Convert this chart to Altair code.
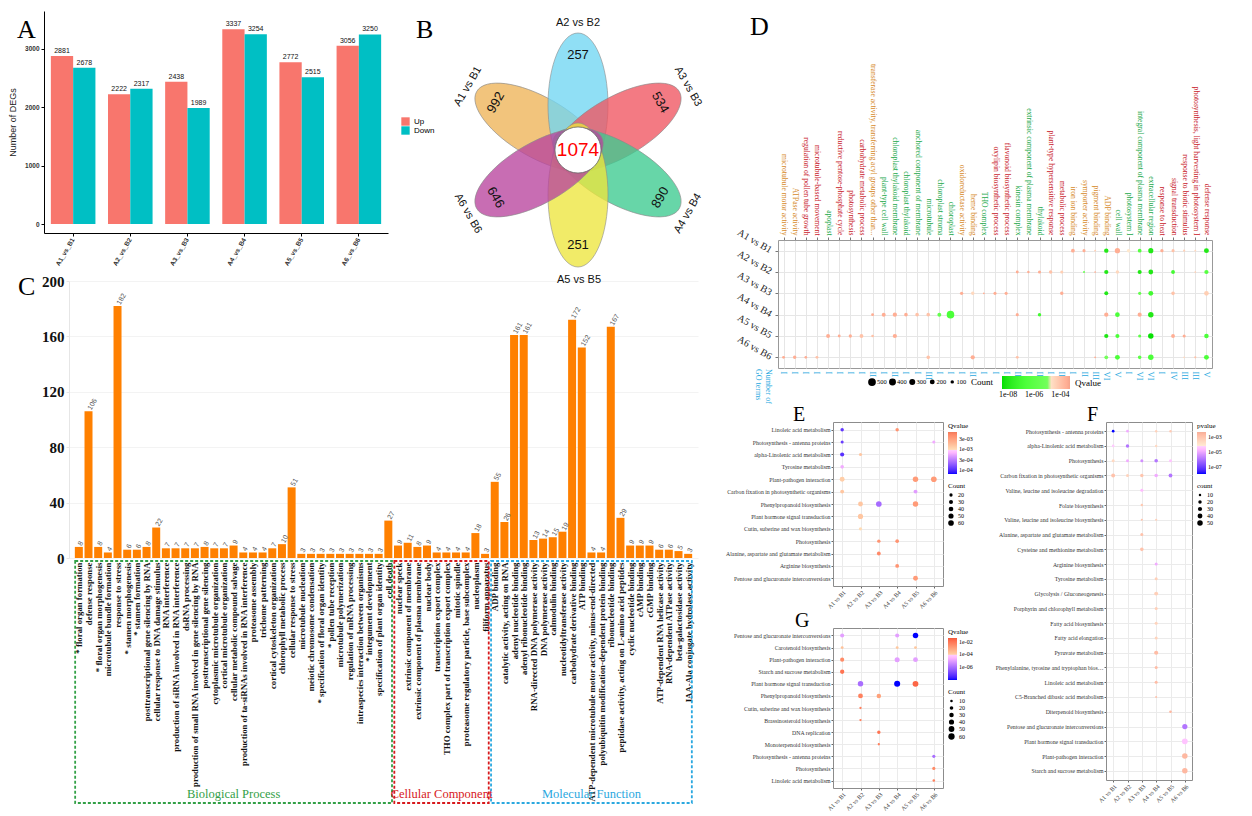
import json
import math
import altair as alt
import pandas as pd

SERIF = "Liberation Serif"
SANS = "Liberation Sans"

# ======================= DATA =======================
# ---- Panel A ----
a_comparisons = ["A1_vs_B1", "A2_vs_B2", "A3_vs_B3", "A4_vs_B4", "A5_vs_B5", "A6_vs_B6"]
a_types = ["Up", "Down"]
a_up = [2881, 2222, 2438, 3337, 2772, 3056]
a_down = [2678, 2317, 1989, 3254, 2515, 3250]
a_colors = ["#F8766D", "#00BFC4"]

# ---- Panel B ----
b_sets = ["A1 vs B1", "A2 vs B2", "A3 vs B3", "A4 vs B4", "A5 vs B5", "A6 vs B6"]
b_unique = [992, 257, 534, 890, 251, 646]
b_core = 1074
b_petal_angle = [150, 90, 30, -30, -90, -150]
b_colors = ["#EEB357", "#71D6F2", "#EF5560", "#3CCB8F", "#EDE63E", "#B8449D"]

# ---- Panel C ----
c_terms = [
    "* floral organ formation", "defense response", "* floral organ morphogenesis",
    "microtubule bundle formation", "response to stress", "* stamen morphogenesis",
    "* stamen formation", "posttranscriptional gene silencing by RNA",
    "cellular response to DNA damage stimulus", "RNA interference",
    "production of siRNA involved in RNA interference", "dsRNA processing",
    "production of small RNA involved in gene silencing by RNA",
    "posttranscriptional gene silencing", "cytoplasmic microtubule organization",
    "cortical microtubule organization", "cellular metabolic compound salvage",
    "production of ta-siRNAs involved in RNA interference", "proteasome assembly",
    "trichome patterning", "cortical cytoskeleton organization",
    "chlorophyll metabolic process", "cellular response to stress",
    "microtubule nucleation", "meiotic chromosome condensation",
    "* specification of floral organ identity", "* pollen tube reception",
    "microtubule polymerization", "regulation of mRNA processing",
    "intraspecies interaction between organisms", "* integument development",
    "specification of plant organ identity", "cell death",
    "nuclear speck", "extrinsic component of membrane",
    "extrinsic component of plasma membrane", "nuclear body",
    "transcription export complex", "THO complex part of transcription export complex",
    "mitotic spindle", "proteasome regulatory particle, base subcomplex",
    "nucleoplasm", "filiform apparatus",
    "ADP binding", "catalytic activity, acting on RNA", "adenyl nucleotide binding",
    "adenyl ribonucleotide binding", "RNA-directed DNA polymerase activity",
    "DNA polymerase activity", "calmodulin binding", "nucleotidyltransferase activity",
    "carbohydrate derivative binding", "ATP binding",
    "ATP-dependent microtubule motor activity, minus-end-directed",
    "polyubiquitin modification-dependent protein binding", "ribonucleotide binding",
    "peptidase activity, acting on L-amino acid peptides", "cyclic nucleotide binding",
    "cAMP binding", "cGMP binding", "ATP-dependent RNA helicase activity",
    "RNA-dependent ATPase activity", "beta-galactosidase activity",
    "IAA-Ala conjugate hydrolase activity",
]
c_counts = [8, 106, 8, 4, 182, 6, 6, 8, 22, 7, 7, 7, 7, 8, 7, 7, 9, 4, 4, 4, 7, 10, 51,
            3, 3, 3, 3, 3, 3, 3, 3, 3, 27,
            9, 11, 8, 9, 4, 4, 4, 4, 18, 3,
            55, 26, 161, 161, 13, 14, 15, 19, 172, 152, 4, 4, 167, 29, 9, 9, 9, 6, 6, 5, 3]
c_group_names = ["Biological Process", "Cellular Component", "Molecular Function"]
c_group_sizes = [33, 10, 21]
c_group_colors = ["#33A047", "#D7191C", "#2AA8E0"]

# ---- Panel D ----
d_terms = [
    "microtubule motor activity", "ATPase activity", "regulation of pollen tube growth",
    "microtubule-based movement", "apoplast", "reductive pentose-phosphate cycle",
    "photosynthesis", "carbohydrate metabolic process",
    "transferase activity, transferring acyl groups other than...", "plant-type cell wall",
    "chloroplast thylakoid membrane", "chloroplast thylakoid", "anchored component of membrane",
    "microtubule", "chloroplast stroma", "chloroplast", "oxidoreductase activity",
    "heme binding", "THO complex", "oxylipin biosynthetic process",
    "flavonoid biosynthetic process", "kinesin complex",
    "extrinsic component of plasma membrane", "thylakoid",
    "plant-type hypersensitive response", "metabolic process", "iron ion binding",
    "symporter activity", "pigment binding", "ADP binding", "cell wall", "photosystem I",
    "integral component of plasma membrane", "extracellular region", "response to heat",
    "signal transduction", "response to biotic stimulus",
    "photosynthesis, light harvesting in photosystem I", "defense response",
]
d_ontology = ["MF", "MF", "BP", "BP", "CC", "BP", "BP", "BP", "MF", "CC",
              "CC", "CC", "CC", "CC", "CC", "CC", "MF", "MF", "CC", "BP",
              "BP", "CC", "CC", "CC", "BP", "BP", "MF", "MF", "MF", "MF",
              "CC", "CC", "CC", "CC", "BP", "BP", "BP", "BP", "BP"]
d_numerals = ["I", "I", "I", "I", "I", "I", "I", "I", "II", "I", "II", "I", "I", "III",
              "I", "I", "I", "II", "I", "I", "I", "III", "I", "II", "I", "II", "I", "II",
              "III", "VI", "V", "I", "VI", "VI", "I", "IV", "III", "III", "V"]
d_rows = ["A1 vs B1", "A2 vs B2", "A3 vs B3", "A4 vs B4", "A5 vs B5", "A6 vs B6"]

d_a1_cols = [27, 28, 29, 30, 31, 32, 33, 34, 35, 36, 37, 38, 39]
d_a1_count = [120, 80, 30, 160, 230, 100, 120, 220, 90, 80, 40, 30, 200]
d_a1_q = [3e-4, 3e-4, 5e-5, 1e-8, 3e-4, 1.3e-5, 5e-7, 1e-8, 3e-4, 1e-4, 5e-5, 3e-5, 1e-8]

d_a2_cols = [22, 23, 24, 25, 26, 28, 29, 30, 31, 33, 34, 36, 38, 39]
d_a2_count = [70, 50, 80, 100, 80, 30, 25, 150, 100, 140, 190, 120, 25, 150]
d_a2_q = [3e-4, 3e-4, 3e-4, 1e-4, 5e-5, 2e-6, 3e-4, 1e-8, 3e-5, 1e-8, 1e-8, 1e-7, 5e-5, 5e-7]

d_a3_cols = [17, 18, 19, 20, 21, 26, 30, 33, 34, 36, 39]
d_a3_count = [90, 100, 30, 80, 80, 100, 130, 80, 200, 110, 180]
d_a3_q = [3e-4, 3e-5, 3e-4, 3e-4, 3e-4, 3e-4, 1e-8, 2e-6, 1e-7, 1e-4, 5e-5]

d_a4_cols = [9, 10, 11, 12, 13, 14, 15, 16, 22, 24, 30, 31, 33, 34]
d_a4_count = [70, 130, 150, 110, 110, 110, 130, 480, 80, 100, 150, 180, 140, 250]
d_a4_q = [3e-4, 3e-4, 3e-4, 3e-4, 1e-4, 1e-4, 2e-6, 2e-7, 3e-4, 1e-7, 3e-4, 2e-7, 3e-4, 1e-8]

d_a5_cols = [5, 6, 7, 8, 9, 11, 30, 31, 33, 34, 36, 37, 39]
d_a5_count = [130, 70, 90, 120, 60, 150, 150, 140, 80, 250, 120, 80, 170]
d_a5_q = [3e-4, 3e-4, 3e-4, 1e-4, 1e-4, 3e-4, 8e-9, 2e-7, 1e-6, 4e-9, 3e-4, 3e-4, 2e-7]

d_a6_cols = [1, 2, 3, 4, 14, 18, 22, 29, 30, 31, 33, 34, 37, 38, 39]
d_a6_count = [70, 100, 60, 70, 110, 150, 70, 30, 120, 200, 110, 250, 25, 40, 200]
d_a6_q = [3e-4, 3e-4, 3e-4, 1e-4, 1e-4, 3e-4, 1e-4, 3e-4, 1e-5, 2e-7, 1e-6, 2e-7, 3e-5, 1e-4, 2e-7]

# ---- Panels E, F, G ----
kegg_cmps = ["A1 vs B1", "A2 vs B2", "A3 vs B3", "A4 vs B4", "A5 vs B5", "A6 vs B6"]

e_pathways = ["Linoleic acid metabolism", "Photosynthesis - antenna proteins",
              "alpha-Linolenic acid metabolism", "Tyrosine metabolism",
              "Plant-pathogen interaction", "Carbon fixation in photosynthetic organisms",
              "Phenylpropanoid biosynthesis", "Plant hormone signal transduction",
              "Cutin, suberine and wax biosynthesis", "Photosynthesis",
              "Alanine, aspartate and glutamate metabolism", "Arginine biosynthesis",
              "Pentose and glucuronate interconversions"]
e_dot_path = [0, 0, 1, 1, 2, 2, 3, 4, 4, 4, 5, 5, 6, 6, 6, 7, 8, 9, 9, 10, 11, 12]
e_dot_cmp = [0, 3, 0, 5, 0, 1, 0, 0, 4, 5, 0, 4, 1, 2, 4, 1, 1, 2, 3, 2, 3, 4]
e_dot_count = [22, 22, 18, 18, 32, 18, 25, 45, 55, 60, 28, 28, 45, 60, 55, 50, 20, 22, 25, 28, 28, 45]
e_dot_q = [1.2e-4, 4e-3, 1.3e-4, 6e-4, 1.1e-4, 1.5e-3, 6e-4, 1.3e-3, 3.5e-3, 3.5e-3, 1.5e-3, 5e-4,
           1.5e-3, 2.5e-4, 3.5e-3, 1.5e-3, 1e-3, 4e-3, 4e-3, 5e-3, 4e-3, 3.5e-3]

f_pathways = ["Photosynthesis - antenna proteins", "alpha-Linolenic acid metabolism", "Photosynthesis",
              "Carbon fixation in photosynthetic organisms", "Valine, leucine and isoleucine degradation",
              "Folate biosynthesis", "Valine, leucine and isoleucine biosynthesis",
              "Alanine, aspartate and glutamate metabolism", "Cysteine and methionine metabolism",
              "Arginine biosynthesis", "Tyrosine metabolism", "Glycolysis / Gluconeogenesis",
              "Porphyrin and chlorophyll metabolism", "Fatty acid biosynthesis", "Fatty acid elongation",
              "Pyruvate metabolism", "Phenylalanine, tyrosine and tryptophan biosynthesis",
              "Linoleic acid metabolism", "C5-Branched dibasic acid metabolism", "Diterpenoid biosynthesis",
              "Pentose and glucuronate interconversions", "Plant hormone signal transduction",
              "Plant-pathogen interaction", "Starch and sucrose metabolism"]
f_dot_path = [0, 0, 0, 0, 1, 1, 1, 2, 2, 2, 2, 2, 3, 3, 3, 3, 3,
              4, 5, 6, 6, 7, 8, 9, 10, 11, 12, 13, 14, 15, 16, 17, 18, 19, 20, 21, 22, 23]
f_dot_cmp = [0, 1, 3, 4, 0, 1, 3, 0, 1, 2, 3, 4, 0, 1, 2, 3, 4,
             2, 2, 2, 3, 2, 2, 3, 3, 3, 3, 3, 3, 3, 3, 3, 3, 4, 5, 5, 5, 5]
f_dot_count = [12, 12, 10, 10, 12, 20, 10, 15, 15, 15, 22, 15, 25, 15, 20, 22, 25,
               15, 10, 8, 8, 15, 22, 15, 15, 25, 15, 15, 15, 28, 15, 15, 7, 12, 45, 55, 50, 50]
f_dot_p = [1e-8, 1e-5, 3e-4, 5e-4, 4e-5, 1e-6, 2e-4, 2e-4, 1e-5, 3e-6, 1e-6, 3e-5,
           1e-3, 3e-4, 8e-4, 1e-5, 1e-6,
           2e-5, 6e-4, 8e-4, 4e-4, 1e-3, 1e-3, 1e-5, 4e-4, 4e-4, 4e-4, 3e-4, 3e-4,
           1.5e-3, 1.5e-3, 1.5e-3, 1e-3, 2e-3, 1e-6, 3e-5, 2e-3, 2e-3]

g_pathways = ["Pentose and glucuronate interconversions", "Carotenoid biosynthesis",
              "Plant-pathogen interaction", "Starch and sucrose metabolism",
              "Plant hormone signal transduction", "Phenylpropanoid biosynthesis",
              "Cutin, suberine and wax biosynthesis", "Brassinosteroid biosynthesis",
              "DNA replication", "Monoterpenoid biosynthesis", "Photosynthesis - antenna proteins",
              "Photosynthesis", "Linoleic acid metabolism"]
g_dot_path = [0, 0, 0, 1, 1, 1, 2, 2, 2, 3, 4, 4, 4, 5, 5, 6, 7, 8, 9, 10, 11, 12]
g_dot_cmp = [0, 3, 4, 0, 3, 4, 0, 3, 4, 0, 1, 3, 4, 1, 2, 1, 1, 2, 2, 5, 5, 5]
g_dot_count = [25, 25, 45, 12, 12, 12, 25, 38, 35, 28, 45, 55, 50, 35, 30, 8, 8, 18, 8, 15, 15, 10]
g_dot_q = [1e-5, 1e-5, 1e-8, 2e-4, 1.5e-4, 1.5e-4, 3e-3, 1e-5, 1e-5, 1e-2, 1e-6, 1e-8, 2e-2,
           5e-3, 1e-3, 5e-3, 5e-3, 1e-2, 5e-3, 1e-6, 3e-3, 5e-3]


# ======================= HELPERS =======================
def letter_layer(ch, x, y, size=26):
    return alt.Chart(pd.DataFrame({"t": [ch]})).mark_text(
        font=SERIF, fontSize=size, align="left", baseline="middle", color="#000"
    ).encode(text="t:N", x=alt.value(x), y=alt.value(y))


def spacer(w=1, h=1):
    return alt.Chart(pd.DataFrame({"a": [0]})).mark_point(opacity=0).encode(
        x=alt.value(0), y=alt.value(0)).properties(width=w, height=h)


SCI_LABEL = "replace(format(datum.value, '.0e'), 'e-', 'e-0')"
RES = dict(color="independent", size="independent")

# ======================= PANEL A =======================
dfA = pd.DataFrame({
    "cmp": a_comparisons * 2,
    "type": ["Up"] * len(a_up) + ["Down"] * len(a_down),
    "n": a_up + a_down,
})
A_SHIFT = 25          # the y axis of A sits left of the shared column origin
A_W, A_H = 319, 222
baseA = alt.Chart(dfA).encode(
    x=alt.X("cmp:N", sort=a_comparisons, title=None,
            scale=alt.Scale(paddingInner=0.22, paddingOuter=0.12, range=[-A_SHIFT, A_W]),
            axis=alt.Axis(labelAngle=-60, labelFont=SANS, labelFontSize=6.5, labelFontWeight="bold",
                          labelColor="#333", domainColor="#000", tickColor="#000", tickSize=3,
                          labelPadding=2)),
    xOffset=alt.XOffset("type:N", sort=a_types, scale=alt.Scale(domain=a_types)),
    y=alt.Y("n:Q", scale=alt.Scale(domain=[-154, 3651], nice=False),
            axis=alt.Axis(values=[0, 1000, 2000, 3000], format="d", title="Number of DEGs",
                          titleFont=SANS, titleFontSize=9, titleFontWeight="normal", titleColor="#222",
                          labelFont=SANS, labelFontSize=6.5, labelFontWeight="bold", labelColor="#333",
                          domainColor="#000", tickColor="#000", tickSize=3, grid=False,
                          minExtent=22, titlePadding=5, offset=A_SHIFT)),
)
barsA = baseA.mark_bar().encode(
    color=alt.Color("type:N", sort=a_types, scale=alt.Scale(domain=a_types, range=a_colors),
                    legend=alt.Legend(title=None, orient="none", legendX=332, legendY=106,
                                      labelFont=SANS, labelFontSize=8, symbolType="square",
                                      symbolSize=70, rowPadding=0, symbolStrokeWidth=0))
)
textA = baseA.mark_text(dy=-5, font=SANS, fontSize=7, color="#111").encode(
    text=alt.Text("n:Q", format="d"))
chartA = alt.layer(barsA, textA, letter_layer("A", -52, 19), letter_layer("B", 347, 19)).properties(
    width=A_W, height=A_H)

# ======================= PANEL B =======================
B_W = 282
B_TOP, B_BOT = 139, 124        # room above / below the flower centre
kk, bb = 0.5523, 0.4167
ell_path = (f"M-1,0C-1,{-bb*kk:.4f},{-kk:.4f},{-bb:.4f},0,{-bb:.4f}"
            f"C{kk:.4f},{-bb:.4f},1,{-bb*kk:.4f},1,0"
            f"C1,{bb*kk:.4f},{kk:.4f},{bb:.4f},0,{bb:.4f}"
            f"C{-kk:.4f},{bb:.4f},-1,{bb*kk:.4f},-1,0Z")
rowsB = []
for s, n, ang, col in zip(b_sets, b_unique, b_petal_angle, b_colors):
    t = math.radians(ang)
    r = ang - 90
    while r <= -90:
        r += 180
    while r > 90:
        r -= 180
    rowsB.append(dict(set=s, n=n, col=col,
                      cx=45 * math.cos(t), cy=45 * math.sin(t),
                      nx=95 * math.cos(t), ny=95 * math.sin(t),
                      lx=127 * math.cos(t), ly=127 * math.sin(t),
                      rot=(-ang) % 360, trot=(-r) % 360))
dfB = pd.DataFrame(rowsB)
bottom_set = b_sets[b_petal_angle.index(-90)]
sxB = alt.Scale(domain=[-B_W / 2, B_W / 2], nice=False, zero=False)
syB = alt.Scale(domain=[-B_BOT, B_TOP], nice=False, zero=False)
petals = alt.Chart(dfB).mark_point(shape=ell_path, size=20736, filled=True, fillOpacity=0.78,
                                   stroke="#8a8a8a", strokeWidth=0.6).encode(
    x=alt.X("cx:Q", scale=sxB, axis=None), y=alt.Y("cy:Q", scale=syB, axis=None),
    angle=alt.Angle("rot:Q", scale=None), fill=alt.Fill("col:N", scale=None))
dfCore = pd.DataFrame({"cx": [0.0], "cy": [0.0], "n": [b_core]})
core = alt.Chart(dfCore).mark_point(shape="circle", size=2124, filled=True, fill="white",
                                    fillOpacity=1, stroke="#666", strokeWidth=0.8).encode(
    x=alt.X("cx:Q", scale=sxB, axis=None), y=alt.Y("cy:Q", scale=syB, axis=None))
coreTxt = alt.Chart(dfCore).mark_text(font=SANS, fontSize=19, color="#FF0000").encode(
    x=alt.X("cx:Q", scale=sxB, axis=None), y=alt.Y("cy:Q", scale=syB, axis=None), text="n:Q")
numTxt = alt.Chart(dfB).mark_text(font=SANS, fontSize=13, color="#111").encode(
    x=alt.X("nx:Q", scale=sxB, axis=None), y=alt.Y("ny:Q", scale=syB, axis=None),
    text="n:Q", angle=alt.Angle("trot:Q", scale=None))
# the bottom petal's name sits in the strip above panel C and is drawn there
setTxt = alt.Chart(dfB[dfB["set"] != bottom_set]).mark_text(font=SANS, fontSize=11, color="#111").encode(
    x=alt.X("lx:Q", scale=sxB, axis=None), y=alt.Y("ly:Q", scale=syB, axis=None),
    text="set:N", angle=alt.Angle("trot:Q", scale=None))
chartB = alt.layer(petals, core, coreTxt, numTxt, setTxt).properties(width=B_W, height=B_TOP + B_BOT)

# ======================= PANEL C =======================
C_W, C_H = 629, 277
nC = len(c_terms)
dfC = pd.DataFrame({"idx": list(range(nC)), "term": c_terms, "n": c_counts})
label_expr_C = json.dumps(c_terms) + "[datum.value]"
xC = alt.X("idx:Q", title=None,
           scale=alt.Scale(domain=[-0.5, nC - 0.5], nice=False, zero=False),
           axis=alt.Axis(values=list(range(nC)), tickCount=500, labelExpr=label_expr_C, labelAngle=270,
                         labelOverlap=False, labelBound=False, labelFlush=False, labelFont=SERIF,
                         labelFontSize=8.8, labelFontWeight="bold", labelColor="#111",
                         labelLimit=250, labelPadding=4, ticks=False, domain=False, grid=False))
yC = alt.Y("n:Q", scale=alt.Scale(domain=[0, 200], nice=False),
           axis=alt.Axis(values=list(range(0, 201, 20)), title="Number of DEGs", titleFont=SERIF,
                         titleFontSize=21, titleFontWeight="bold", titleColor="#111",
                         labelFont=SERIF, labelFontSize=15, labelFontWeight="bold", labelColor="#111",
                         grid=True, gridColor="#f3f3f3", domainColor="#e6e6e6", tickColor="#e6e6e6",
                         tickSize=3, titlePadding=6))
barsC = alt.Chart(dfC).mark_bar(size=8, color="#FF8000").encode(x=xC, y=yC)
textC = alt.Chart(dfC).mark_text(angle=300, align="left", baseline="middle", dx=2, font=SANS,
                                 fontSize=7, color="#555").encode(
    x=alt.X("idx:Q", title=None), y=alt.Y("n:Q", title=None), text="n:Q")
g_start = [sum(c_group_sizes[:i]) for i in range(len(c_group_sizes))]
dfGrp = pd.DataFrame({
    "name": c_group_names,
    "x0": [s - 0.5 + 0.12 for s in g_start],
    "x1": [s + n - 0.5 - 0.12 for s, n in zip(g_start, c_group_sizes)],
    "mid": [s + (n - 1) / 2 for s, n in zip(g_start, c_group_sizes)],
    "col": c_group_colors,
})
boxC = alt.Chart(dfGrp).mark_rect(fill="transparent", strokeWidth=1.8, strokeDash=[3, 2]).encode(
    x=alt.X("x0:Q", title=None), x2="x1:Q", y=alt.value(C_H + 3), y2=alt.value(C_H + 245),
    stroke=alt.Stroke("col:N", scale=None))
grpTxt = alt.Chart(dfGrp).mark_text(font=SERIF, fontSize=12.5, baseline="bottom").encode(
    x=alt.X("mid:Q", title=None), y=alt.value(C_H + 243), text="name:N",
    color=alt.Color("col:N", scale=None))
vennBottomName = alt.Chart(pd.DataFrame({"t": [bottom_set]})).mark_text(
    font=SANS, fontSize=11, color="#111", baseline="middle").encode(
    text="t:N", x=alt.value(510), y=alt.value(-1))
chartC = alt.layer(barsC, textC, boxC, grpTxt, vennBottomName, letter_layer("C", -51, 6)).properties(
    width=C_W, height=C_H)

# ======================= PANEL D =======================
D_W, D_H = 434, 128
d_row_data = [
    (d_a1_cols, d_a1_count, d_a1_q), (d_a2_cols, d_a2_count, d_a2_q),
    (d_a3_cols, d_a3_count, d_a3_q), (d_a4_cols, d_a4_count, d_a4_q),
    (d_a5_cols, d_a5_count, d_a5_q), (d_a6_cols, d_a6_count, d_a6_q),
]
recD = []
for rname, (cols, cnts, qs) in zip(d_rows, d_row_data):
    for c, n, q in zip(cols, cnts, qs):
        recD.append({"row": rname, "term": d_terms[c - 1], "count": n, "q": q})
dfD = pd.DataFrame(recD)
bp_terms = [t for t, o in zip(d_terms, d_ontology) if o == "BP"]
cc_terms = [t for t, o in zip(d_terms, d_ontology) if o == "CC"]
d_label_color = {
    "condition": [
        {"test": f"indexof({json.dumps(bp_terms)}, datum.value) >= 0", "value": "#C8202A"},
        {"test": f"indexof({json.dumps(cc_terms)}, datum.value) >= 0", "value": "#22A94A"},
    ],
    "value": "#D68A2A",
}
num_expr = f"{json.dumps(d_numerals)}[indexof({json.dumps(d_terms)}, datum.value)]"
yD_scale = alt.Scale(domain=d_rows)
yD = alt.Y("row:N", sort=d_rows, scale=yD_scale, title=None,
           axis=alt.Axis(labels=False, grid=True, gridColor="#e6e6e6",
                         tickColor="#777", tickSize=3, domain=False))
ptsD = alt.Chart(dfD).mark_circle(opacity=1).encode(
    x=alt.X("term:N", sort=d_terms, scale=alt.Scale(domain=d_terms), title=None,
            axis=alt.Axis(orient="top", labelAngle=90, labelAlign="right", labelBaseline="middle",
                          labelFont=SERIF, labelFontSize=7.6, labelLimit=240, labelColor=d_label_color,
                          grid=True, gridColor="#e6e6e6", tickColor="#777", tickSize=3, domain=False,
                          labelPadding=2)),
    y=yD,
    color=alt.Color("q:Q", scale=alt.Scale(type="log", domain=[10 ** -8.46, 10 ** -4.9, 10 ** -3.27],
                                           range=["#00E000", "#FFFFFF", "#F5A38A"]),
                    legend=alt.Legend(title="Qvalue", orient="none", legendX=224, legendY=136,
                                      direction="horizontal", gradientLength=68, gradientThickness=13,
                                      values=[1e-8, 1e-6, 1e-4], labelExpr=SCI_LABEL, titleOrient="right",
                                      titleFont=SERIF, titleFontSize=9, titleFontWeight="normal",
                                      labelFont=SERIF, labelFontSize=8)),
    size=alt.Size("count:Q", scale=alt.Scale(domain=[0, 500], range=[0, 60]),
                  legend=alt.Legend(title="Count", orient="none", legendX=90, legendY=138,
                                    direction="horizontal", values=[500, 400, 300, 200, 100],
                                    symbolFillColor="black", symbolStrokeWidth=0, symbolOpacity=1,
                                    titleOrient="right", titleFont=SERIF, titleFontSize=9,
                                    titleFontWeight="normal", labelFont=SERIF, labelFontSize=6.5,
                                    columnPadding=2, labelOffset=1)),
)
botD = alt.Chart(dfD).mark_point(opacity=0).encode(
    x=alt.X("term:N", sort=d_terms, scale=alt.Scale(domain=d_terms), title=None,
            axis=alt.Axis(orient="bottom", labelExpr=num_expr, labelAngle=90, labelAlign="left",
                          labelBaseline="middle", labelFont=SERIF, labelFontSize=8.5, labelColor="#29A9E0",
                          ticks=False, domain=False, grid=False, labelPadding=3)),
    y=yD,
)
chartD = alt.layer(ptsD, botD).resolve_axis(x="independent").properties(
    width=D_W, height=D_H, view=alt.ViewBackground(stroke="#999"))

# row labels of D, its letter and the "Number of GO terms" note, in a narrow strip left of D
DLAB_W = 52
dfDlab = pd.DataFrame({"row": d_rows})
rowLab = alt.Chart(dfDlab).mark_text(font=SERIF, fontSize=10, color="#222", align="right",
                                     baseline="middle", angle=30).encode(
    y=alt.Y("row:N", sort=d_rows, scale=yD_scale, axis=None), x=alt.value(DLAB_W - 3), text="row:N")
goNote = alt.Chart(pd.DataFrame({"t": ["Number of\nGO terms"]})).mark_text(
    font=SERIF, fontSize=8, color="#29A9E0", align="left", baseline="middle", angle=90,
    lineBreak="\n").encode(text="t:N", x=alt.value(DLAB_W - 6), y=alt.value(D_H + 1))
chartDlab = alt.layer(rowLab, goNote, letter_layer("D", DLAB_W - 24, -213)).properties(
    width=DLAB_W, height=D_H)


# ======================= PANELS E/F/G =======================
def dot_panel(letter, lx, ly, pathways, p_idx, c_idx, counts, vals, w, h, c_dom, c_rng, c_title,
              c_vals, s_dom, s_rng, s_title, s_vals, ylimit):
    df = pd.DataFrame({"path": [pathways[i] for i in p_idx], "cmp": [kegg_cmps[j] for j in c_idx],
                       "count": counts, "v": vals})
    pts = alt.Chart(df).mark_circle(opacity=1).encode(
        x=alt.X("cmp:N", sort=kegg_cmps, scale=alt.Scale(domain=kegg_cmps), title=None,
                axis=alt.Axis(labelAngle=-45, labelFont=SERIF, labelFontSize=6, labelColor="#333",
                              grid=True, gridColor="#ebebeb", tickColor="#666", tickSize=2,
                              domain=False, labelPadding=1)),
        y=alt.Y("path:N", sort=pathways, scale=alt.Scale(domain=pathways, padding=0.62), title=None,
                axis=alt.Axis(labelFont=SERIF, labelFontSize=5.8, labelColor="#333", labelLimit=ylimit,
                              grid=True, gridColor="#ebebeb", tickColor="#666", tickSize=2,
                              domain=False, labelPadding=1)),
        color=alt.Color("v:Q", scale=alt.Scale(type="log", domain=c_dom, range=c_rng),
                        legend=alt.Legend(title=c_title, values=c_vals, labelExpr=SCI_LABEL,
                                          gradientLength=42, gradientThickness=9, titleFont=SERIF,
                                          titleFontSize=7, titleFontWeight="normal", labelFont=SERIF,
                                          labelFontSize=6, offset=5, titlePadding=3)),
        size=alt.Size("count:Q", scale=alt.Scale(domain=s_dom, range=s_rng),
                      legend=alt.Legend(title=s_title, values=s_vals, symbolFillColor="black",
                                        symbolStrokeWidth=0, symbolOpacity=1, titleFont=SERIF,
                                        titleFontSize=7, titleFontWeight="normal", labelFont=SERIF,
                                        labelFontSize=6, offset=5, rowPadding=1, titlePadding=3)),
    )
    return alt.layer(pts, letter_layer(letter, lx, ly, size=20)).properties(
        width=w, height=h, view=alt.ViewBackground(stroke="#8c8c8c"))


chartE = dot_panel("E", -40, -7, e_pathways, e_dot_path, e_dot_cmp, e_dot_count, e_dot_q, 110, 164,
                   [10 ** -4.17, 1e-3, 10 ** -2.17], ["#0000FF", "#FFFFFF", "#EF7A5A"], "Qvalue",
                   [1e-4, 3e-4, 1e-3, 3e-3], [0, 60], [0, 32], "Count", [20, 30, 40, 50, 60], 125)
chartF = dot_panel("F", -19, -7, f_pathways, f_dot_path, f_dot_cmp, f_dot_count, f_dot_p, 86, 358,
                   [1e-8, 10 ** -4.3, 10 ** -2.4], ["#0000FF", "#FFFFFF", "#F4AE98"], "pvalue",
                   [1e-7, 1e-5, 1e-3], [0, 50], [0, 30], "count", [10, 20, 30, 40, 50], 108)
chartG = dot_panel("G", -38, -7, g_pathways, g_dot_path, g_dot_cmp, g_dot_count, g_dot_q, 110, 160,
                   [1e-8, 1e-4, 10 ** -1.43], ["#0000FF", "#FFFFFF", "#EE5A3C"], "Qvalue",
                   [1e-6, 1e-4, 1e-2], [0, 60], [0, 40], "Count", [10, 20, 30, 40, 50, 60], 125)

# ======================= LAYOUT =======================
# Vega aligns the origins of cells that share a row or a column; zero-size spacers keep
# each column's origin where its contents should start.
topLeft = alt.hconcat(chartA, chartB, spacing=2).resolve_scale(**RES)
left = alt.vconcat(topLeft, chartC, spacing=0).resolve_scale(**RES)

dRow = alt.hconcat(chartDlab, chartD, spacing=0).resolve_scale(**RES)
eg = alt.vconcat(chartE, chartG, spacing=0).resolve_scale(**RES)
egWrap = alt.hconcat(spacer(1, 1), eg, spacing=0).resolve_scale(**RES)
bottomRight = alt.hconcat(egWrap, chartF, spacing=20).resolve_scale(**RES)
right = alt.vconcat(spacer(1, 1), dRow, bottomRight, spacing=0).resolve_scale(**RES)

chart = alt.hconcat(left, right, spacing=0).resolve_scale(**RES).properties(
    padding={"left": 0, "top": 0, "right": 0, "bottom": 0}, background="white"
).configure_view(stroke=None)

chart.save("out.html", embed_options={"renderer": "svg", "actions": False})
